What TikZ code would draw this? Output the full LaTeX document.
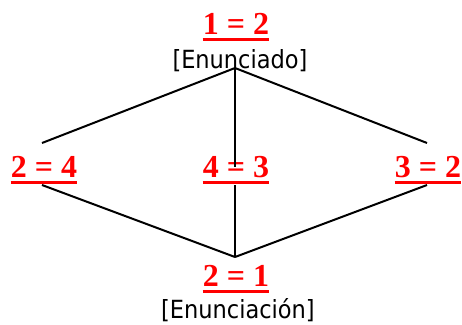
\documentclass[tikz,border=0pt]{standalone}
\usepackage{fontspec}
\setmainfont{Liberation Serif}
\newfontfamily\labelfont{DejaVu Sans Condensed}
\begin{document}
\begin{tikzpicture}[x=1pt,y=-1pt,
  eq/.style={font=\fontsize{32}{32}\selectfont\bfseries, text=red, inner sep=0pt, anchor=base},
  tag/.style={font=\labelfont\fontsize{25}{25}\selectfont, text=black, inner sep=0pt, anchor=base},
  uline/.style={red, line width=3.5pt},
  conn/.style={black, line width=2pt}]
\useasboundingbox (0,0) rectangle (462,324);
% equations
\node[eq] (top) at (236,34) {1 = 2};
\node[tag] (topTag) at (240,68) {[Enunciado]};
\node[eq] (left) at (44,177) {2 = 4};
\node[eq] (mid) at (236,177) {4 = 3};
\node[eq] (right) at (428,177) {3 = 2};
\node[eq] (bot) at (236,286) {2 = 1};
\node[tag] (botTag) at (238,318) {[Enunciación]};
% underlines
\foreach \n in {top,left,mid,right,bot}
  \draw[uline] ([yshift=-5.5pt]\n.base west) -- ([yshift=-5.5pt]\n.base east);
% connector coordinates
\coordinate (apexT) at (235,68);
\coordinate (apexB) at (235,257);
\coordinate (lT) at (42,143);
\coordinate (rT) at (427,143);
\coordinate (mT) at (235,167);
\coordinate (lB) at (42,185);
\coordinate (rB) at (427,185);
\coordinate (mB) at (235,185);
\draw[conn] (apexT) -- (lT);
\draw[conn] (apexT) -- (rT);
\draw[conn] (apexT) -- (mT);
\draw[conn] (lB) -- (apexB);
\draw[conn] (rB) -- (apexB);
\draw[conn] (mB) -- (apexB);
\end{tikzpicture}
\end{document}
